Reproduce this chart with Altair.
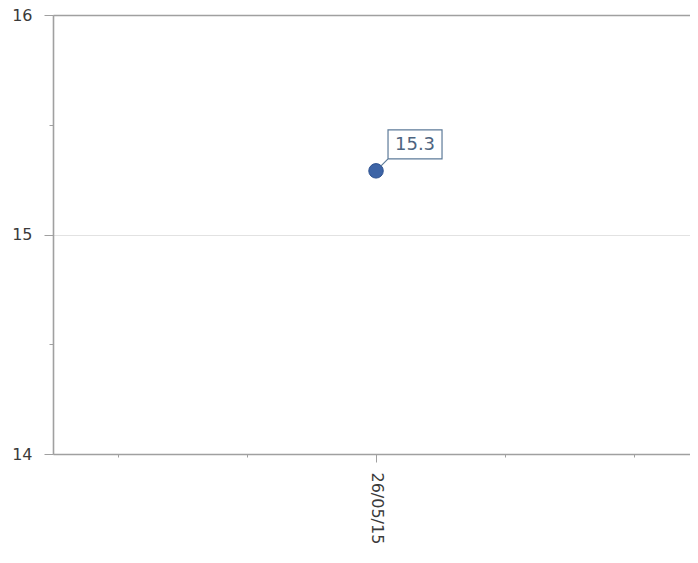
import altair as alt
import pandas as pd

# ---- data ----
dates = ["2015-05-26"]
values = [15.29]
x_tick_days = [24, 25, 26, 27, 28]          # May 2015, tick positions
y_tick_values = [14, 14.5, 15, 15.5, 16]

df = pd.DataFrame({"date": dates, "value": values})

label_ts = [int(pd.Timestamp(d, tz="UTC").value // 10**6) for d in dates]
label_test = " || ".join(f"datum.value == {t}" for t in label_ts)

FONT = "DejaVu Sans"
AXIS_GRAY = "#a0a0a0"
LABEL_COLOR = "#3a3a3a"

x_enc = alt.X(
    "date:T",
    scale=alt.Scale(
        type="utc",
        domain=[
            alt.DateTime(year=2015, month=5, date=23, hours=11, minutes=54, utc=True),
            alt.DateTime(year=2015, month=5, date=28, hours=10, minutes=25, utc=True),
        ],
    ),
    axis=alt.Axis(
        title=None,
        values=[alt.DateTime(year=2015, month=5, date=d, utc=True) for d in x_tick_days],
        format="%d/%m/%y",
        labelExpr=f"({label_test}) ? datum.label : ''",
        labelAngle=90,
        labelFont=FONT,
        labelFontSize=16,
        labelColor=LABEL_COLOR,
        labelPadding=10,
        tickSize={"condition": {"test": label_test, "value": 8}, "value": 3},
        tickColor=AXIS_GRAY,
        domainColor=AXIS_GRAY,
        domainWidth=1.6,
        grid=False,
    ),
)

y_enc = alt.Y(
    "value:Q",
    scale=alt.Scale(domain=[14, 16], nice=False, zero=False),
    axis=alt.Axis(
        title=None,
        values=y_tick_values,
        tickCount=10,
        labelExpr="datum.value % 1 == 0 ? format(datum.value, 'd') : ''",
        labelFont=FONT,
        labelFontSize=16,
        labelColor=LABEL_COLOR,
        labelPadding=12,
        labelOverlap=False,
        tickSize={"condition": {"test": "datum.value % 1 == 0", "value": 9}, "value": 4},
        tickColor=AXIS_GRAY,
        domainColor=AXIS_GRAY,
        domainWidth=1.6,
        grid=True,
        gridColor={"condition": {"test": "datum.value == 16", "value": AXIS_GRAY}, "value": "#e2e2e2"},
        gridWidth={"condition": {"test": "datum.value == 16", "value": 1.6}, "value": 1},
        gridOpacity={"condition": {"test": "datum.value % 1 != 0", "value": 0}, "value": 1},
    ),
)

base = alt.Chart(df).encode(x=x_enc, y=y_enc)

points = base.mark_circle(size=210, color="#3d64a6", opacity=1,
                          stroke="#2d5190", strokeWidth=1)

callout = base.mark_point(
    shape="M12,-41H66V-12H12Z M5,-5L12,-12",
    size=4,
    filled=False,
    fill="white",
    fillOpacity=1,
    stroke="#5d7b99",
    strokeWidth=1.2,
    opacity=1,
)

labels = base.mark_text(
    dx=39, dy=-26, font=FONT, fontSize=18, color="#4d6480",
    align="center", baseline="middle",
).encode(text=alt.Text("value:Q", format=".1f"))

chart = (
    alt.layer(points, callout, labels)
    .properties(
        width=637,
        height=439,
        autosize=alt.AutoSizeParams(type="none"),
        padding={"left": 45, "top": 7, "right": 0, "bottom": 101},
    )
    .configure_view(strokeWidth=0)
    .configure(background="white")
)

chart.save("out.html", embed_options={"renderer": "svg", "actions": False})
